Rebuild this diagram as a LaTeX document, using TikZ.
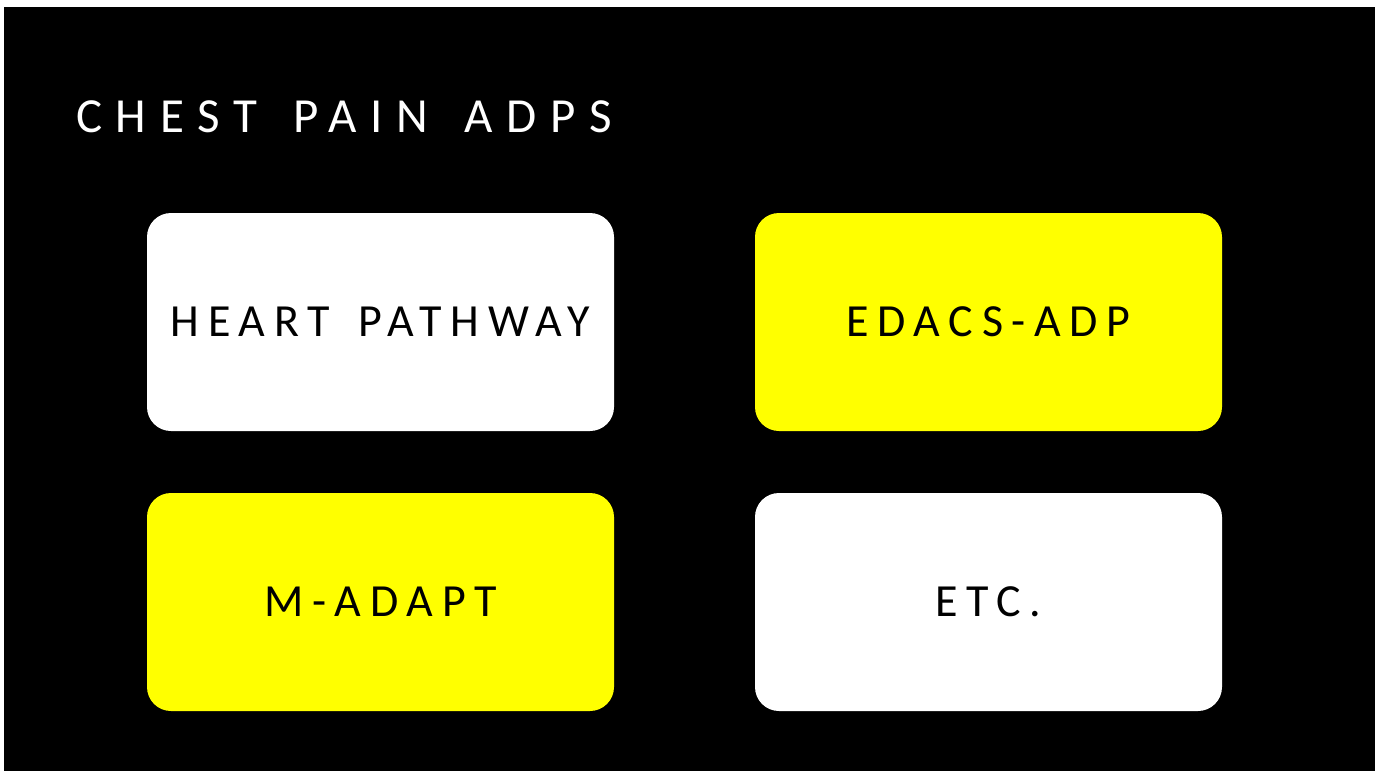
\documentclass[tikz,border=0pt]{standalone}
\usepackage{fontspec}
\setmainfont{Carlito}
\newfontfamily\titlefont[LetterSpace=28]{Carlito}
\newfontfamily\boxfont[LetterSpace=19]{Carlito}
\definecolor{hiyellow}{HTML}{FFFF00}
% type styles with widened word spaces
\newcommand\headingtype{\titlefont\fontsize{49}{54}\selectfont\spaceskip=36pt\relax}
\newcommand\cardtype{\boxfont\fontsize{46}{50}\selectfont\spaceskip=29pt\relax}
\begin{document}
\begin{tikzpicture}[x=1pt,y=-1pt,
  card/.style={rounded corners=24pt, minimum width=467pt, minimum height=218pt,
    inner sep=0pt, font=\cardtype, text=black},
  whitecard/.style={card, fill=white},
  yellowcard/.style={card, fill=hiyellow}]
  % page and dark panel
  \useasboundingbox (0,0) rectangle (1382,771);
  \fill[white] (0,0) rectangle (1382,771);
  \fill[black] (4,7) rectangle (1375,771);
  % heading
  \node[anchor=base west, inner sep=0pt, text=white, font=\headingtype]
    (title) at (76,132) {CHEST PAIN ADPS};
  % the four cards
  \node[whitecard]  (heart) at (380.5,322) {HEART PATHWAY};
  \node[yellowcard] (edacs) at (988.5,322) {EDACS-ADP};
  \node[yellowcard] (madapt) at (380.5,602) {M-ADAPT};
  \node[whitecard]  (etc) at (988.5,602) {ETC.};
\end{tikzpicture}
\end{document}
